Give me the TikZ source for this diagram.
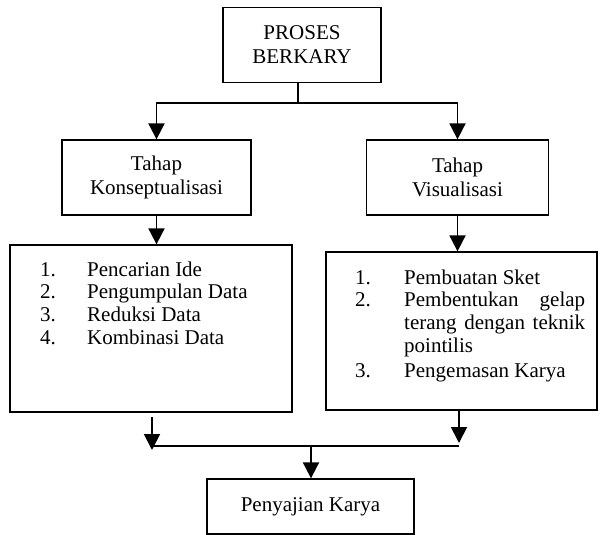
\documentclass[tikz,border=0pt]{standalone}
\usepackage{fontspec}
\setmainfont{Liberation Serif}
\usetikzlibrary{arrows.meta}
\begin{document}
\begin{tikzpicture}[x=1pt,y=-1pt,
  box/.style={draw,line width=1.3pt,inner sep=0pt,align=center,
    font=\fontsize{21}{24}\selectfont},
  conn/.style={line width=1.9pt},
  arr/.style={conn,-{Triangle[length=16pt,width=16pt]}},
  listtext/.style={inner sep=0pt,anchor=base west,
    font=\fontsize{21}{22.7}\selectfont}]
\useasboundingbox (0,0) rectangle (600,535);
% boxes
\node[box,minimum width=158pt,minimum height=75pt] (top) at (302,45) {PROSES\\BERKARY};
\node[box,minimum width=189pt,minimum height=75pt] (tk) at (156.5,177.5) {Tahap\\Konseptualisasi};
\node[box,minimum width=182pt,minimum height=75pt] (tv) at (457.5,177.5) {Tahap\\Visualisasi};
\node[box,minimum width=282pt,minimum height=167pt] (lbox) at (151,328.5) {};
\node[box,minimum width=271pt,minimum height=158pt] (rbox) at (461.5,331) {};
\node[box,minimum width=207pt,minimum height=55pt] (pk) at (310.5,506.5) {Penyajian Karya};
% list texts
\node[listtext] (ltext) at (40,276) {\begin{minipage}[t]{245pt}\parindent=0pt\parskip=0pt
\makebox[47pt][l]{1.}Pencarian Ide\par
\makebox[47pt][l]{2.}Pengumpulan Data\par
\makebox[47pt][l]{3.}Reduksi Data\par
\makebox[47pt][l]{4.}Kombinasi Data\par
\end{minipage}};
\node[listtext] (rtext) at (355,284) {\begin{minipage}[t]{230pt}\parindent=0pt\parskip=0pt
\makebox[49pt][l]{1.}Pembuatan Sket\par
\hangindent=49pt\hangafter=1
\makebox[49pt][l]{2.}Pembentukan gelap\linebreak terang dengan teknik\linebreak pointilis\par
\vspace{3pt}\makebox[49pt][l]{3.}Pengemasan Karya\par
\end{minipage}};
% connectors
\coordinate (split) at (298,103);
\draw[conn] (split |- top.south) -- (split);
\draw[arr] (split) -| (tk.north);
\draw[arr] (split) -| (tv.north);
\draw[arr] (tk.south) -- (tk.south |- lbox.north);
\draw[arr] (tv.south) -- (tv.south |- rbox.north);
\coordinate (lstart) at (152,417);
\coordinate (ltip) at (152,450);
\coordinate (join) at (311,446);
\coordinate (rtip) at (459,443);
\draw[arr] (lstart) -- (ltip);
\draw[arr] (rtip |- rbox.south) -- (rtip);
\draw[conn] (152,446) -- (459,446);
\draw[arr] (join) -- (pk.north -| join);
\end{tikzpicture}
\end{document}
